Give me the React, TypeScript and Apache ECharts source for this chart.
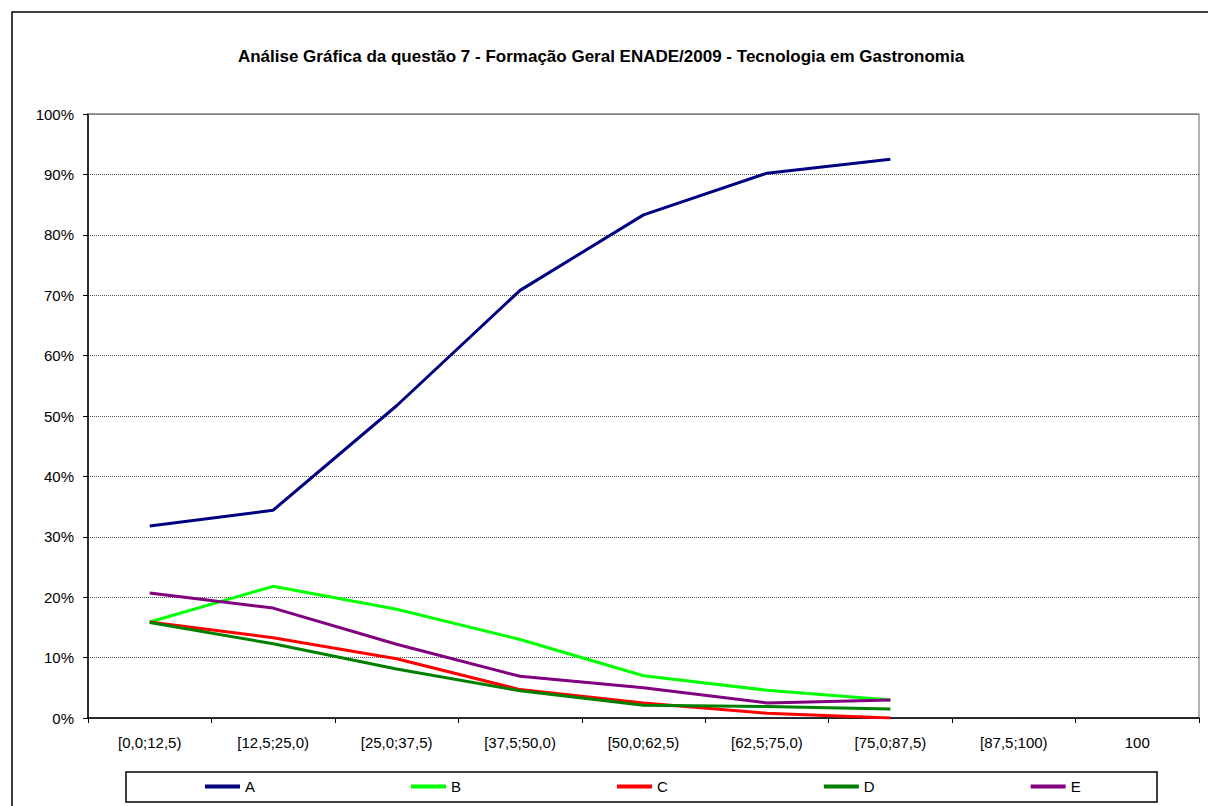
import React, { useEffect, useRef } from "react";
import * as echarts from "echarts";

const categories = [
  "[0,0;12,5)",
  "[12,5;25,0)",
  "[25,0;37,5)",
  "[37,5;50,0)",
  "[50,0;62,5)",
  "[62,5;75,0)",
  "[75,0;87,5)",
  "[87,5;100)",
  "100",
];

const seriesA = [31.8, 34.4, 51.7, 70.8, 83.3, 90.2, 92.5, null, null];
const seriesB = [15.9, 21.8, 18.0, 13.0, 7.0, 4.6, 3.0, null, null];
const seriesC = [15.9, 13.3, 9.8, 4.7, 2.5, 0.8, 0.0, null, null];
const seriesD = [15.8, 12.3, 8.1, 4.5, 2.1, 1.9, 1.5, null, null];
const seriesE = [20.7, 18.2, 12.2, 6.9, 5.0, 2.5, 3.0, null, null];

const seriesNames = ["A", "B", "C", "D", "E"];
const seriesColors = ["#000080", "#00FF00", "#FF0000", "#008000", "#800080"];
const seriesValues = [seriesA, seriesB, seriesC, seriesD, seriesE];

const titleText =
  "Análise Gráfica da questão 7 - Formação Geral ENADE/2009 - Tecnologia em Gastronomia";

const FONT = "'Liberation Sans', Arial, sans-serif";

export default function App() {
  const ref = useRef<HTMLDivElement>(null);

  useEffect(() => {
    if (!ref.current) return;
    const chart = echarts.init(ref.current, undefined, { renderer: "svg" });
    chart.setOption({
      animation: false,
      backgroundColor: "#ffffff",
      textStyle: { fontFamily: FONT },
      title: {
        text: titleText,
        left: 596,
        top: 43,
        textAlign: "center",
        textStyle: { fontFamily: FONT, fontSize: 17, fontWeight: "bold", color: "#000" },
      },
      graphic: [
        {
          type: "rect",
          shape: { x: 12, y: 12, width: 1210, height: 810 },
          style: { fill: "none", stroke: "#000", lineWidth: 1.5 },
          silent: true,
          z: -1,
        },
        {
          type: "rect",
          shape: { x: 126, y: 772, width: 1031, height: 30 },
          style: { fill: "none", stroke: "#000", lineWidth: 1.5 },
          silent: true,
          z: -1,
        },
        {
          type: "line",
          shape: { x1: 88, y1: 114, x2: 1199, y2: 114 },
          style: { stroke: "#808080", lineWidth: 1.2 },
          silent: true,
          z: 1,
        },
      ],
      legend: {
        data: seriesNames,
        left: 205,
        top: 779,
        padding: 0,
        itemGap: 156,
        itemWidth: 35,
        itemHeight: 4,
        icon: "rect",
        textStyle: { fontFamily: FONT, fontSize: 15, color: "#000" },
      },
      grid: {
        left: 88,
        right: 9,
        top: 114,
        bottom: 88,
        show: true,
        borderColor: "#808080",
        borderWidth: 1.2,
        backgroundColor: "transparent",
      },
      xAxis: {
        type: "category",
        data: categories,
        boundaryGap: true,
        axisLine: { lineStyle: { color: "#000", width: 1.5 } },
        axisTick: { show: true, length: 5, interval: 0, lineStyle: { color: "#000" } },
        axisLabel: {
          interval: 0,
          margin: 17,
          fontFamily: FONT,
          fontSize: 15,
          color: "#000",
        },
        splitLine: { show: false },
      },
      yAxis: {
        type: "value",
        min: 0,
        max: 100,
        interval: 10,
        axisLine: { show: true, lineStyle: { color: "#000", width: 1.5 } },
        axisTick: { show: true, length: 5, lineStyle: { color: "#000" } },
        axisLabel: {
          formatter: "{value}%",
          margin: 14,
          fontFamily: FONT,
          fontSize: 15,
          color: "#000",
        },
        splitLine: { show: true, lineStyle: { color: "#555", type: "dotted", width: 1 } },
      },
      series: seriesNames.map((name, i) => ({
        name,
        type: "line",
        data: seriesValues[i],
        showSymbol: false,
        symbol: "none",
        connectNulls: false,
        lineStyle: { color: seriesColors[i], width: 3 },
        itemStyle: { color: seriesColors[i] },
      })),
    });
    return () => chart.dispose();
  }, []);

  return (
    <div
      ref={ref}
      style={{ position: "fixed", left: 0, top: 0, width: 1208, height: 806 }}
    />
  );
}
